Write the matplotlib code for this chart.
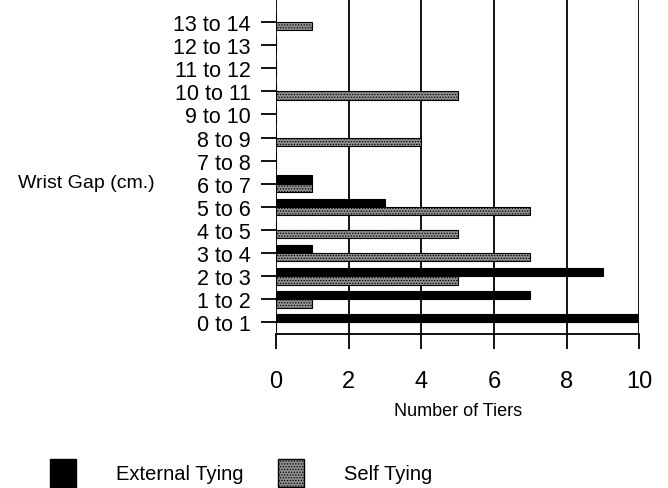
import matplotlib
matplotlib.use("Agg")
from matplotlib import pyplot as plt
from matplotlib.patches import Patch
import numpy as np

plt.rcParams['font.family'] = ['Liberation Sans', 'DejaVu Sans']
plt.rcParams['hatch.linewidth'] = 0.6
plt.rcParams['hatch.color'] = '#444444'

categories = ['0 to 1', '1 to 2', '2 to 3', '3 to 4', '4 to 5', '5 to 6', '6 to 7',
              '7 to 8', '8 to 9', '9 to 10', '10 to 11', '11 to 12', '12 to 13', '13 to 14']
external = [10, 7, 9, 1, 0, 3, 1, 0, 0, 0, 0, 0, 0, 0]
self_tying = [0, 1, 5, 7, 5, 7, 1, 0, 4, 0, 5, 0, 0, 1]
xticks = [0, 2, 4, 6, 8, 10]

fig = plt.figure(figsize=(6.68, 4.89), dpi=100)
ax = fig.add_axes([0.413, 0.315, 0.544, 0.683])

y = np.arange(len(categories))
h = 0.36
ax.barh(y + h / 2, external, height=h, color='black', edgecolor='black', linewidth=0.8)
ax.barh(y - h / 2, self_tying, height=h, color='#8f8f8f', edgecolor='black',
        linewidth=0.8, hatch='......')

ax.set_xlim(0, 10)
ax.set_ylim(-0.5, 13.95)
ax.set_xticks(xticks)
ax.set_yticks(y)
ax.set_yticklabels(categories, fontsize=15.5)
for x in xticks:
    ax.axvline(x, color='black', linewidth=1.3, zorder=0)

for s in ['top', 'right', 'left']:
    ax.spines[s].set_visible(False)
ax.spines['bottom'].set_linewidth(1.3)
ax.tick_params(axis='both', direction='out', width=1.3)
ax.tick_params(axis='x', labelsize=17, pad=15, length=11)
ax.tick_params(axis='y', pad=7, length=11)

ax.set_xlabel('Number of Tiers', fontsize=13, labelpad=7)
fig.text(0.027, 1 - 183 / 489, 'Wrist Gap (cm.)', fontsize=14, va='center', ha='left')

handles = [Patch(facecolor='black', edgecolor='black', label='External Tying'),
           Patch(facecolor='#8f8f8f', edgecolor='black', hatch='......', label='Self Tying')]
fig.legend(handles=handles, loc='lower left', bbox_to_anchor=(0.047, -0.034), ncol=2,
           frameon=False, fontsize=14.5, handlelength=1.3, handleheight=1.7,
           handletextpad=2.0, columnspacing=1.7)

fig.savefig('out.png', dpi=100)
